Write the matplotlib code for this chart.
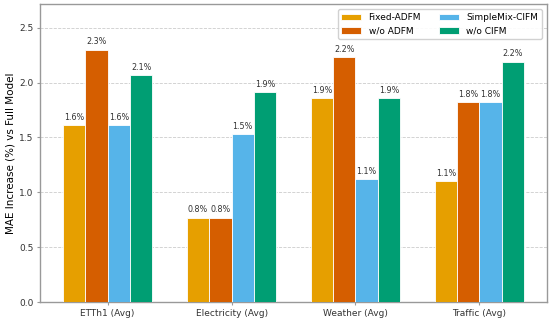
import matplotlib
matplotlib.use("Agg")
import matplotlib.pyplot as plt
import numpy as np

datasets = ["ETTh1 (Avg)", "Electricity (Avg)", "Weather (Avg)", "Traffic (Avg)"]
variants = ["Fixed-ADFM", "w/o ADFM", "SimpleMix-CIFM", "w/o CIFM"]
fixed_adfm = [1.61, 0.77, 1.86, 1.10]
wo_adfm = [2.30, 0.77, 2.23, 1.82]
simplemix_cifm = [1.61, 1.53, 1.12, 1.82]
wo_cifm = [2.07, 1.91, 1.86, 2.19]
series = [fixed_adfm, wo_adfm, simplemix_cifm, wo_cifm]
colors = ["#E69F00", "#D55E00", "#56B4E9", "#009E73"]

fig = plt.figure(figsize=(5.5, 3.2), dpi=100)
ax = fig.add_axes([0.0727, 0.0553, 0.922, 0.932])

x = np.arange(len(datasets))
w = 0.18
for i, (name, vals, c) in enumerate(zip(variants, series, colors)):
    pos = x + (i - 1.5) * w
    bars = ax.bar(pos, vals, w, label=name, color=c, edgecolor="white", linewidth=0.6, zorder=3)
    for b, v in zip(bars, vals):
        ax.text(b.get_x() + b.get_width() / 2, v + 0.03, f"{v:.1f}%",
                ha="center", va="bottom", fontsize=5.8, color="#333333", zorder=4)

ax.set_xticks(x)
ax.set_xticklabels(datasets, fontsize=6.5)
ax.set_ylabel("MAE Increase (%) vs Full Model", fontsize=7.5, labelpad=3)
ax.set_ylim(0, max(max(s) for s in series) * 1.18)
ax.set_yticks([0.0, 0.5, 1.0, 1.5, 2.0, 2.5])
ax.tick_params(axis="both", labelsize=6.5, length=2.5, pad=2,
               colors="#333333", color="#999999", width=0.8)
ax.grid(axis="y", linestyle="--", color="#cccccc", linewidth=0.6, zorder=0)
for s in ax.spines.values():
    s.set_color("#999999")
    s.set_linewidth(1.0)
ax.legend(loc="upper right", ncol=2, fontsize=6.5, frameon=True, framealpha=0.9,
          edgecolor="#cccccc", handlelength=2.2, columnspacing=2.0,
          borderaxespad=0.6)

fig.savefig("out.png", dpi=100)
